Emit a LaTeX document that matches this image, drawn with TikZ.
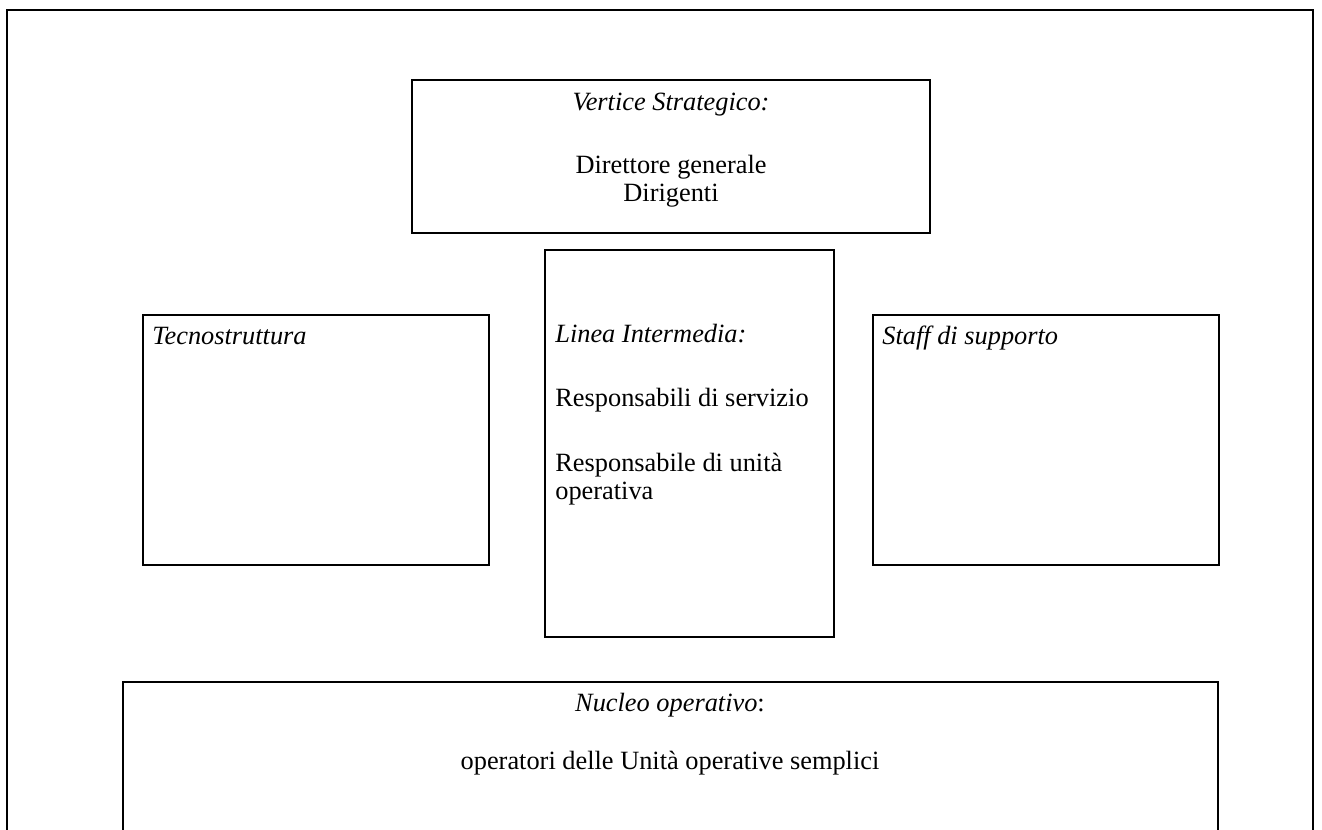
\documentclass[tikz,border=0pt]{standalone}
\usepackage{fontspec}
\setmainfont{Liberation Serif}
\usetikzlibrary{positioning}

\tikzset{
  box/.style={draw, line width=1pt, rectangle, inner sep=0pt},
  txt/.style={font=\fontsize{15}{18}\selectfont, inner sep=0pt}
}

\begin{document}
\begin{tikzpicture}

\useasboundingbox (0,0) rectangle (26.44,16.6);
\clip (0,0) rectangle (26.44,16.6);

% Outer frame
\node[box, minimum width=26.12cm, minimum height=16.9cm] (frame) at (13.2, 7.95) {};

% Boxes
\node[box, minimum width=10.36cm, minimum height=3.06cm] (vertice) at (13.42, 13.47) {};
\node[box, minimum width=5.78cm, minimum height=7.74cm] (linea) at (13.79, 7.73) {};
\node[box, minimum width=6.92cm, minimum height=5cm] (tecno) at (6.32, 7.8) {};
\node[box, minimum width=6.92cm, minimum height=5cm] (staff) at (20.92, 7.8) {};
\node[box, minimum width=21.9cm, minimum height=3.46cm] (nucleo) at (13.41, 1.23) {};

% Vertice strategico
\node[txt, anchor=base] (verticeT) at (13.42, 14.38) {\textit{Vertice Strategico:}};
\node[txt, anchor=base] (direttore) at (13.42, 13.12) {Direttore generale};
\node[txt, anchor=base] (dirigenti) at (13.42, 12.56) {Dirigenti};

% Side boxes
\node[txt, anchor=base west] (tecnoT) at (3.04, 9.70) {\textit{Tecnostruttura}};
\node[txt, anchor=base west] (staffT) at (17.64, 9.70) {\textit{Staff di supporto}};

% Linea intermedia
\node[txt, anchor=base west] (lineaT) at (11.10, 9.74) {\textit{Linea Intermedia:}};
\node[txt, anchor=base west] (servizio) at (11.10, 8.46) {Responsabili di servizio};
\node[txt, anchor=base west] (unita) at (11.10, 7.16) {Responsabile di unità};
\node[txt, anchor=base west] (operativa) at (11.10, 6.60) {operativa};

% Nucleo operativo
\node[txt, anchor=base] (nucleoT) at (13.40, 2.36) {\textit{Nucleo operativo}:};
\node[txt, anchor=base] (operatori) at (13.40, 1.20) {operatori delle Unità operative semplici};

\end{tikzpicture}
\end{document}
